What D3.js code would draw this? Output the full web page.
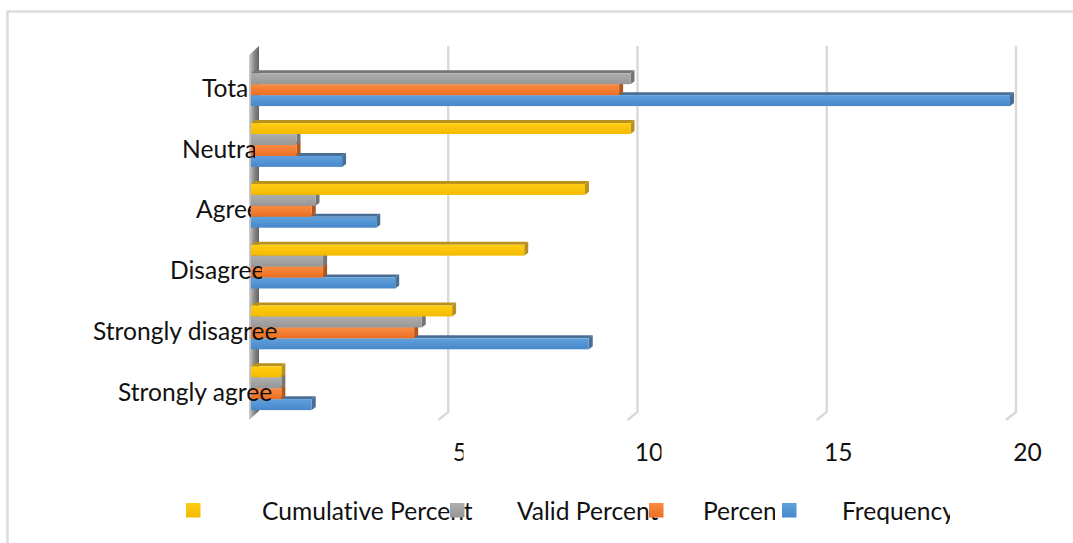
<!DOCTYPE html>
<html><head><meta charset="utf-8">
<script src="https://cdn.jsdelivr.net/npm/d3@7"></script>
<style>html,body{margin:0;padding:0;background:#fff;overflow:hidden}svg{display:block}text{font-family:Lato,"Open Sans",sans-serif;fill:#111;font-variant-ligatures:none}</style>
</head><body><svg id="c" width="1073" height="543"></svg>
<script>
const categories = ["Total","Neutral","Agree","Disagree","Strongly disagree","Strongly agree"];
const seriesNames = ["Cumulative Percent","Valid Percent","Percent","Frequency"];
const cumulativePercent = [null,10,8.8,7.2,5.3,0.8];
const validPercent = [10,1.2,1.7,1.9,4.5,0.8];
const percent = [9.7,1.2,1.6,1.9,4.3,0.8];
const frequency = [20,2.4,3.3,3.8,8.9,1.6];
const tickValues = [5,10,15,20];

// layout and style only
const fills = [["#ffcd12","#f4ba00","#b8901c"],["#aeaeae","#979797","#757575"],["#f98b42","#eb6f22","#b0561c"],["#60a0dc","#4688cb","#4a6f96"]];
const labelLeft = [202,182,196,170,93,118], labelClip = [249,255,251,262,279,274];
const legendSwatch = [186,450,649,782], legendText = [262,517,703,842], legendClip = [480,670,775,950];
const tickClip = [463,661,1073,1073];
const fs = 24.6, depthX = 4, depthY = 3;

const svg = d3.select("#c"), defs = svg.append("defs");
const values = [cumulativePercent, validPercent, percent, frequency];
const x = d3.scaleLinear().domain([0,20]).range([251,1010]);
const gridX = d3.scaleLinear().domain([0,20]).range([259,1016]);
const y = d3.scaleBand().domain(categories).range([53.8,418.6]).paddingInner(0.28).paddingOuter(0.14);
const inner = d3.scaleBand().domain(seriesNames).range([0,y.bandwidth()]);

function clipTo(id, left, right){
  defs.append("clipPath").attr("id",id).append("rect").attr("x",left).attr("y",-600).attr("width",right-left).attr("height",1200);
  return `url(#${id})`;
}
function grad(id, stops, horiz){
  const g = defs.append("linearGradient").attr("id",id).attr("x1",0).attr("y1",0).attr("x2",horiz?1:0).attr("y2",horiz?0:1);
  stops.forEach((c,i)=>g.append("stop").attr("offset",i/(stops.length-1)).attr("stop-color",c));
}
fills.forEach((f,i)=>grad("g"+i,[f[0],f[1]]));
grad("wall",["#d0d0d0","#8c8c8c","#626262"],true);

// chart frame
svg.append("path").attr("d","M7.5,543V11.5H1073").attr("fill","none").attr("stroke","#dcdcdc").attr("stroke-width",2.5);

// gridlines with floor stub
svg.append("g").selectAll("path").data(tickValues).join("path")
  .attr("d",d=>`M${gridX(d)},46V412L${gridX(d)-10},420`)
  .attr("fill","none").attr("stroke","#d9d9d9").attr("stroke-width",2.4);

// side wall
svg.append("path").attr("d",`M249,55L${gridX(0)},46V411L249,420Z`).attr("fill","url(#wall)");

// bars: drawn bottom series first so upper bars overlap the top face of lower ones
[3,2,1,0].forEach(s=>{
  const rows = categories.map((c,i)=>({c,v:values[s][i]})).filter(d=>d.v!=null);
  const g = svg.append("g");
  const Y = d=>y(d.c)+inner(seriesNames[s]), H = inner.bandwidth(), X0 = x(0);
  g.selectAll(".top").data(rows).join("path").attr("class","top")
    .attr("d",d=>`M${X0},${Y(d)}l${depthX},${-depthY}H${x(d.v)+depthX}L${x(d.v)},${Y(d)}Z`).attr("fill",fills[s][2]);
  g.selectAll(".side").data(rows).join("path").attr("class","side")
    .attr("d",d=>`M${x(d.v)},${Y(d)}l${depthX},${-depthY}v${H}l${-depthX},${depthY}Z`).attr("fill",fills[s][2]);
  g.selectAll("rect").data(rows).join("rect")
    .attr("x",X0).attr("y",Y).attr("width",d=>x(d.v)-X0).attr("height",H).attr("fill",`url(#g${s})`);
});

// category labels
svg.append("g").selectAll("text").data(categories).join("text")
  .attr("x",(d,i)=>labelLeft[i]).attr("y",d=>y(d)+y.bandwidth()/2+12.5)
  .attr("font-size",fs).attr("clip-path",(d,i)=>clipTo("lc"+i,0,labelClip[i])).text(d=>d);

// value axis
const axisDx = 11;
const axis = svg.append("g").attr("transform",`translate(${axisDx},430)`)
  .call(d3.axisBottom(gridX).tickValues(tickValues).tickSize(0).tickPadding(0));
axis.attr("font-family",null).attr("font-size",null);
axis.select(".domain").remove();
axis.selectAll(".tick text").attr("y",31).attr("dy",0).attr("font-size",fs)
  .attr("clip-path",(d,i)=>clipTo("tk"+i,-60,tickClip[i]-gridX(d)-axisDx));

// legend
const lg = svg.append("g");
lg.selectAll("text").data(seriesNames).join("text")
  .attr("x",(d,i)=>legendText[i]).attr("y",520).attr("font-size",fs)
  .attr("clip-path",(d,i)=>clipTo("lg"+i,0,legendClip[i])).text(d=>d);
lg.selectAll("rect").data(seriesNames).join("rect")
  .attr("x",(d,i)=>legendSwatch[i]).attr("y",503).attr("width",14.5).attr("height",14.5)
  .attr("fill",(d,i)=>`url(#g${i})`);
</script></body></html>
